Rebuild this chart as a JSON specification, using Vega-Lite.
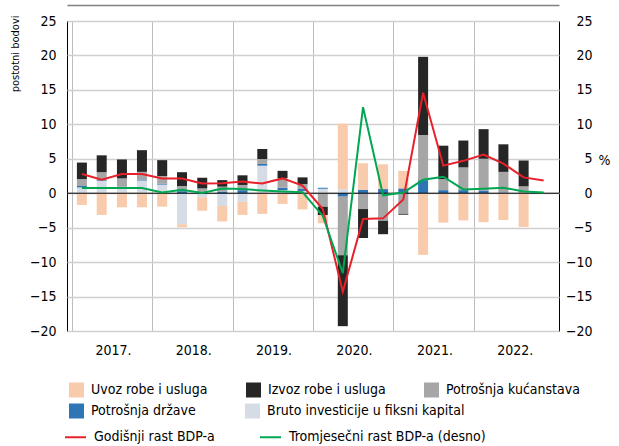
{
  "$schema": "https://vega.github.io/schema/vega-lite/v6.json",
  "width": 492,
  "height": 310,
  "autosize": "none",
  "padding": {"left": 67, "top": 21, "right": 60, "bottom": 115},
  "config": {
    "font": "DejaVu Sans Condensed, sans-serif",
    "view": {"stroke": "#000000", "strokeWidth": 1},
    "axis": {"labelFontSize": 14, "labelColor": "#000000", "domain": false, "ticks": false, "titleFontWeight": "normal", "titleColor": "#000000", "labelOverlap": false, "labelFontWeight": "normal"},
    "legend": {"labelFontSize": 14, "labelColor": "#000000", "padding": 0, "titlePadding": 0, "labelLimit": 400}
  },
  "datasets": {
    "q": [
      {"d": "2017-02-15", "inv": 0.85, "gov": 0.2, "hh": 1.0, "exp": 2.4, "imp": -1.7, "annual": 2.8, "quarterly": 0.75},
      {"d": "2017-05-16", "inv": 1.8, "gov": 0.1, "hh": 1.15, "exp": 2.45, "imp": -3.15, "annual": 1.95, "quarterly": 0.75},
      {"d": "2017-08-16", "inv": 0.9, "gov": 0.05, "hh": 1.2, "exp": 2.75, "imp": -2.05, "annual": 2.8, "quarterly": 0.75},
      {"d": "2017-11-15", "inv": 1.85, "gov": 0.15, "hh": 1.1, "exp": 3.15, "imp": -2.05, "annual": 2.8, "quarterly": 0.75},
      {"d": "2018-02-15", "inv": 1.25, "gov": 0.15, "hh": 1.1, "exp": 2.3, "imp": -1.95, "annual": 2.15, "quarterly": 0.1},
      {"d": "2018-05-16", "inv": -4.5, "gov": 0.3, "hh": 0.75, "exp": 2.0, "imp": -0.45, "annual": 2.15, "quarterly": 0.5},
      {"d": "2018-08-16", "inv": -0.6, "gov": 0.15, "hh": 0.55, "exp": 1.55, "imp": -1.95, "annual": 1.4, "quarterly": 0.05},
      {"d": "2018-11-15", "inv": -1.85, "gov": 0.25, "hh": 0.7, "exp": 0.95, "imp": -2.25, "annual": 1.45, "quarterly": 0.7},
      {"d": "2019-02-15", "inv": -1.25, "gov": 0.45, "hh": 0.75, "exp": 1.4, "imp": -1.9, "annual": 1.7, "quarterly": 0.6},
      {"d": "2019-05-16", "inv": 4.0, "gov": 0.25, "hh": 0.72, "exp": 1.45, "imp": -3.0, "annual": 1.4, "quarterly": 0.4},
      {"d": "2019-08-16", "inv": 0.45, "gov": 0.35, "hh": 1.4, "exp": 1.05, "imp": -1.55, "annual": 2.15, "quarterly": 0.25},
      {"d": "2019-11-15", "inv": 0.33, "gov": 0.3, "hh": 0.7, "exp": 0.97, "imp": -2.35, "annual": 1.1, "quarterly": 0.15},
      {"d": "2020-02-15", "inv": 0.65, "gov": 0.15, "hh": -1.95, "exp": -1.2, "imp": -1.2, "annual": -2.3, "quarterly": -3.3},
      {"d": "2020-05-16", "inv": 0.6, "gov": -0.5, "hh": -8.5, "exp": -10.3, "imp": 9.5, "annual": -14.3, "quarterly": -11.6},
      {"d": "2020-08-16", "inv": 0, "gov": 0.5, "hh": -2.3, "exp": -4.2, "imp": 3.85, "annual": -3.75, "quarterly": 12.5},
      {"d": "2020-11-15", "inv": 0, "gov": 0.6, "hh": -4.0, "exp": -1.95, "imp": 3.6, "annual": -3.65, "quarterly": -0.3},
      {"d": "2021-02-15", "inv": 0, "gov": 0.7, "hh": -3.0, "exp": -0.12, "imp": 2.55, "annual": -0.9, "quarterly": 0.1},
      {"d": "2021-05-16", "inv": 0, "gov": 1.9, "hh": 6.55, "exp": 11.35, "imp": -8.95, "annual": 14.6, "quarterly": 1.95},
      {"d": "2021-08-16", "inv": 0, "gov": 0.45, "hh": 1.6, "exp": 4.85, "imp": -4.27, "annual": 4.0, "quarterly": 2.4},
      {"d": "2021-11-15", "inv": 0, "gov": 0.45, "hh": 3.3, "exp": 3.9, "imp": -3.95, "annual": 4.7, "quarterly": 0.55},
      {"d": "2022-02-15", "inv": 0, "gov": 0.4, "hh": 4.6, "exp": 4.3, "imp": -4.2, "annual": 5.6, "quarterly": 0.65},
      {"d": "2022-05-16", "inv": 0, "gov": 0.1, "hh": 3.0, "exp": 4.0, "imp": -3.9, "annual": 4.3, "quarterly": 0.8},
      {"d": "2022-08-16", "inv": 0, "gov": 0.05, "hh": 0.95, "exp": 3.75, "imp": -4.9, "annual": 2.3, "quarterly": 0.25},
      {"d": "2022-11-15", "annual": 1.85, "quarterly": 0.1}
    ],
    "comp": [
      {"key": "inv", "label": "Bruto investicije u fiksni kapital", "k": 1},
      {"key": "gov", "label": "Potrošnja države", "k": 2},
      {"key": "hh", "label": "Potrošnja kućanstava", "k": 3},
      {"key": "exp", "label": "Izvoz robe i usluga", "k": 4},
      {"key": "imp", "label": "Uvoz robe i usluga", "k": 5}
    ]
  },
  "data": {"name": "q"},
  "layer": [
    {
      "transform": [
        {"fold": ["inv", "gov", "hh", "exp", "imp"], "as": ["key", "v"]},
        {"filter": "isValid(datum.v)"},
        {"lookup": "key", "from": {"data": {"name": "comp"}, "key": "key", "fields": ["label", "k"]}}
      ],
      "mark": {"type": "bar", "width": 10},
      "encoding": {
        "x": {
          "field": "d", "type": "temporal",
          "scale": {"type": "utc", "domain": [{"year": 2017, "month": 1, "date": 1, "utc": true}, {"year": 2023, "month": 1, "date": 1, "utc": true}]},
          "axis": {
            "title": null,
            "values": [{"year": 2017, "utc": true}, {"year": 2018, "utc": true}, {"year": 2019, "utc": true}, {"year": 2020, "utc": true}, {"year": 2021, "utc": true}, {"year": 2022, "utc": true}],
            "labelExpr": "utcFormat(datum.value, '%Y') + '.'",
            "labelFontWeight": "normal",
            "labelOffset": 41, "labelFlush": false, "labelPadding": 12,
            "grid": true, "gridColor": "#bdbdbd", "gridWidth": 1
          }
        },
        "y": {
          "field": "v", "type": "quantitative", "stack": "zero",
          "scale": {"domain": [-20, 25], "nice": false, "zero": false},
          "axis": {
            "orient": "left",
            "values": [-20, -15, -10, -5, 0, 5, 10, 15, 20, 25],
            "grid": true, "gridColor": "#cfcfcf", "gridWidth": 1.5,
            "labelPadding": 11, "labelOverlap": false, "labelBound": false, "labelFlush": false,
            "title": "postotni bodovi", "titleFontSize": 11,
            "titleX": -52, "titleY": -6, "titleAngle": -90, "titleAlign": "right", "titleBaseline": "middle"
          }
        },
        "fill": {
          "field": "label", "type": "nominal",
          "scale": {
            "domain": ["Uvoz robe i usluga", "Izvoz robe i usluga", "Potrošnja kućanstava", "Potrošnja države", "Bruto investicije u fiksni kapital"],
            "range": ["#f8cbad", "#262626", "#a6a6a6", "#2e75b6", "#d6dce5"]
          },
          "legend": {
            "title": null, "orient": "none", "legendX": 2, "legendY": 361.5,
            "values": ["Uvoz robe i usluga", "Izvoz robe i usluga", "Potrošnja kućanstava"],
            "direction": "horizontal", "columnPadding": 38,
            "symbolType": "square", "symbolSize": 225, "symbolStrokeWidth": 0, "symbolOpacity": 1,
            "labelOffset": 7
          }
        },
        "order": {"field": "k", "type": "quantitative"}
      }
    },
    {
      "data": {"name": "comp"},
      "transform": [{"filter": "datum.k <= 2"}],
      "mark": {"type": "square", "opacity": 0, "size": 1},
      "encoding": {
        "color": {
          "field": "label", "type": "nominal",
          "scale": {"domain": ["Potrošnja države", "Bruto investicije u fiksni kapital"], "range": ["#2e75b6", "#d6dce5"]},
          "legend": {
            "title": null, "orient": "none", "legendX": 2, "legendY": 382.5,
            "direction": "horizontal", "columnPadding": 49,
            "symbolType": "square", "symbolSize": 225, "symbolStrokeWidth": 0, "symbolOpacity": 1,
            "labelOffset": 7
          }
        }
      }
    },
    {
      "data": {"values": [{}]},
      "mark": {"type": "rule", "color": "#000000", "strokeWidth": 1},
      "encoding": {"y": {"datum": 0, "type": "quantitative", "axis": null}}
    },
    {
      "mark": {"type": "line", "strokeWidth": 2},
      "encoding": {
        "x": {
          "field": "d", "type": "temporal",
          "axis": {"orient": "top", "domain": true, "domainColor": "#808080", "domainWidth": 1.5, "offset": 16, "labels": false, "ticks": false, "grid": false, "title": null}
        },
        "y": {"field": "annual", "type": "quantitative", "axis": null},
        "stroke": {
          "datum": "Godišnji rast BDP-a", "type": "nominal",
          "scale": {"domain": ["Godišnji rast BDP-a", "Tromjesečni rast BDP-a (desno)"], "range": ["#e8202a", "#00a651"]},
          "legend": {
            "title": null, "orient": "none", "legendX": -3, "legendY": 404.5,
            "direction": "horizontal", "columnPadding": 41,
            "symbolType": "stroke", "symbolSize": 441, "symbolStrokeWidth": 2,
            "labelOffset": 7
          }
        }
      }
    },
    {
      "mark": {"type": "line", "strokeWidth": 2},
      "encoding": {
        "x": {"field": "d", "type": "temporal", "axis": null},
        "y": {
          "field": "quarterly", "type": "quantitative",
          "axis": {
            "orient": "right",
            "values": [-20, -15, -10, -5, 0, 5, 10, 15, 20, 25],
            "grid": false, "labelAlign": "right", "labelPadding": 33,
            "title": "%", "titleFontSize": 14, "titleAngle": 0,
            "titleX": 45, "titleY": 139, "titleAlign": "center", "titleBaseline": "middle"
          }
        },
        "stroke": {"datum": "Tromjesečni rast BDP-a (desno)", "type": "nominal"}
      }
    }
  ],
  "resolve": {"axis": {"y": "independent", "x": "independent"}}
}
